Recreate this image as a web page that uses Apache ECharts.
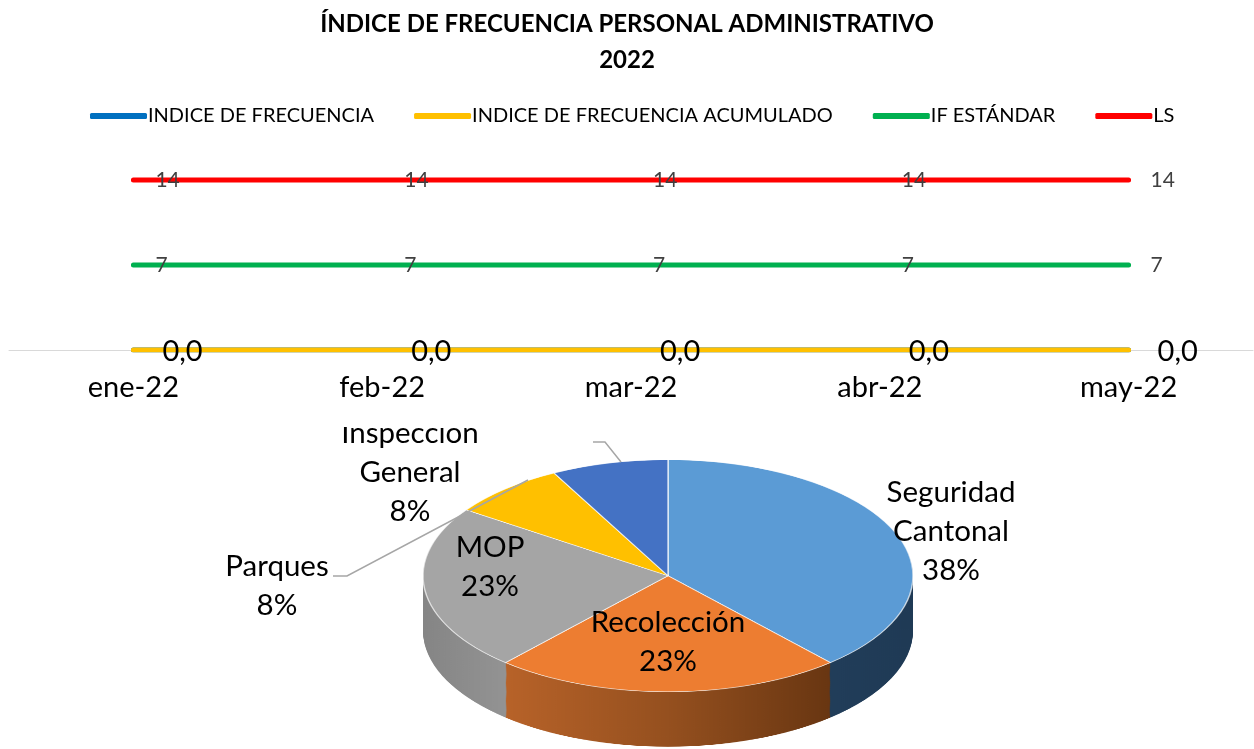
<!DOCTYPE html>
<html>
<head>
<meta charset="utf-8">
<script src="https://cdn.jsdelivr.net/npm/echarts@6/dist/echarts.min.js"></script>
<style>
  body { margin: 0; background: #fff; }
  #wrap { position: relative; width: 1254px; height: 749px; overflow: hidden; }
  #pie { position: absolute; left: 413px; top: 455px; width: 510px; height: 626px;
         transform: scaleY(0.4735); transform-origin: 0 0; }
  #labels { position: absolute; left: 0; top: 0; width: 1254px; height: 749px; }
  #main { position: absolute; left: 0; top: 0; width: 1254px; height: 427px; background: #fff; }
</style>
</head>
<body>
<div id="wrap">
  <div id="pie"></div>
  <div id="labels"></div>
  <div id="main"></div>
</div>
<script>
// datos
var meses = ['ene-22', 'feb-22', 'mar-22', 'abr-22', 'may-22'];
var indiceFrecuencia = [0, 0, 0, 0, 0];
var indiceAcumulado = [0, 0, 0, 0, 0];
var ifEstandar = [7, 7, 7, 7, 7];
var limiteSup = [14, 14, 14, 14, 14];

var areas = ['Seguridad Cantonal', 'Recolección', 'MOP', 'Parques', 'Inspección General'];
var accidentes = [5, 3, 3, 1, 1];

var FONT = 'Lato, "Open Sans", sans-serif';

// gráfico de líneas
var mainChart = echarts.init(document.getElementById('main'));

function lineSerie(name, data, color, label) {
    return {
        name: name,
        type: 'line',
        data: data,
        symbol: 'circle',
        symbolSize: 0,
        itemStyle: { color: color },
        lineStyle: { width: 5, color: color, cap: 'round' },
        label: label,
        silent: true,
        animation: false
    };
}

var smallLabel = {
    show: true, position: 'right', distance: 22,
    color: '#404040', fontSize: 21, fontFamily: FONT
};

mainChart.setOption({
    title: {
        text: 'ÍNDICE DE FRECUENCIA PERSONAL ADMINISTRATIVO\n2022',
        left: 'center',
        top: 1,
        textStyle: { fontFamily: FONT, fontSize: 24, fontWeight: 'bold', color: '#000', lineHeight: 36 }
    },
    legend: {
        left: 85,
        top: 101,
        itemWidth: 57,
        itemHeight: 6,
        itemGap: 40,
        icon: 'roundRect',
        textStyle: { fontFamily: FONT, fontSize: 20, color: '#000', padding: [0, 0, 0, -4] }
    },
    grid: { left: 9, right: 1, top: 155.7, bottom: 77 },
    xAxis: {
        type: 'category',
        data: meses,
        boundaryGap: true,
        axisLine: { lineStyle: { color: '#d9d9d9', width: 1 } },
        axisTick: { show: false },
        axisLabel: { fontFamily: FONT, fontSize: 29, color: '#000', margin: 23 }
    },
    yAxis: {
        type: 'value', min: 0, max: 16, show: false,
        splitLine: { show: false }
    },
    series: [
        lineSerie('INDICE DE FRECUENCIA', indiceFrecuencia, '#0070C0', { show: false }),
        lineSerie('INDICE DE FRECUENCIA ACUMULADO', indiceAcumulado, '#FFC000', {
            show: true, position: 'right', distance: 29, offset: [0, 2],
            color: '#000', fontSize: 29, fontFamily: FONT,
            formatter: function (p) { return p.value.toFixed(1).replace('.', ','); }
        }),
        lineSerie('IF ESTÁNDAR', ifEstandar, '#00B050', smallLabel),
        lineSerie('LS', limiteSup, '#FF0000', smallLabel)
    ]
});

// pastel 3D (capas apiladas en un div escalado en vertical)
var pieChart = echarts.init(document.getElementById('pie'));
var R = 245, CX = 255, CY = 255, DEPTH = 116, STEP = 2;
var topColors = ['#5B9BD5', '#ED7D31', '#A5A5A5', '#FFC000', '#4472C4'];

function grad(stops) {
    return new echarts.graphic.LinearGradient(CX - R, 0, CX + R, 0, stops, true);
}
var sideColors = [
    grad([{ offset: 0, color: '#2C4D70' }, { offset: 1, color: '#1F3A55' }]),
    grad([{ offset: 0, color: '#C96C2E' }, { offset: 0.5, color: '#95501F' }, { offset: 1, color: '#52290B' }]),
    grad([{ offset: 0, color: '#858585' }, { offset: 0.3, color: '#9E9E9E' }, { offset: 1, color: '#9E9E9E' }]),
    '#BF9000',
    '#2F5597'
];

function pieLayer(off, colors, border) {
    return {
        type: 'pie',
        center: [CX, CY + off],
        radius: R,
        startAngle: 90,
        clockwise: true,
        silent: true,
        animation: false,
        label: { show: false },
        labelLine: { show: false },
        data: accidentes.map(function (v, i) {
            return {
                value: v, name: areas[i],
                itemStyle: {
                    color: colors[i],
                    borderColor: border ? 'rgba(255,255,255,0.7)' : colors[i],
                    borderWidth: border ? 1.5 : 0
                }
            };
        })
    };
}

var pieSeries = [];
for (var d = DEPTH; d > 0; d -= STEP) {
    pieSeries.push(pieLayer(d, sideColors, false));
}
pieSeries.push(pieLayer(0, topColors, true));
pieChart.setOption({ series: pieSeries });

// etiquetas del pastel
var labelChart = echarts.init(document.getElementById('labels'));
var total = accidentes.reduce(function (a, b) { return a + b; }, 0);
var labelPos = [[951, 531], [668, 642], [490, 567], [277, 586], [410, 472]];

var labelGraphics = areas.map(function (name, i) {
    return {
        type: 'text',
        style: {
            text: name.replace(' ', '\n') + '\n' + Math.round(accidentes[i] / total * 100) + '%',
            x: labelPos[i][0], y: labelPos[i][1],
            align: 'center', verticalAlign: 'middle',
            font: '29.5px ' + FONT, lineHeight: 39, fill: '#000'
        }
    };
});
labelGraphics.push({
    type: 'polyline',
    shape: { points: [[333, 576], [347, 576], [528, 480]] },
    style: { stroke: '#a6a6a6', lineWidth: 1.5, fill: null }
});
labelGraphics.push({
    type: 'polyline',
    shape: { points: [[593, 442], [605, 442], [621, 462]] },
    style: { stroke: '#a6a6a6', lineWidth: 1.5, fill: null }
});
labelChart.setOption({ graphic: labelGraphics });
</script>
</body>
</html>
